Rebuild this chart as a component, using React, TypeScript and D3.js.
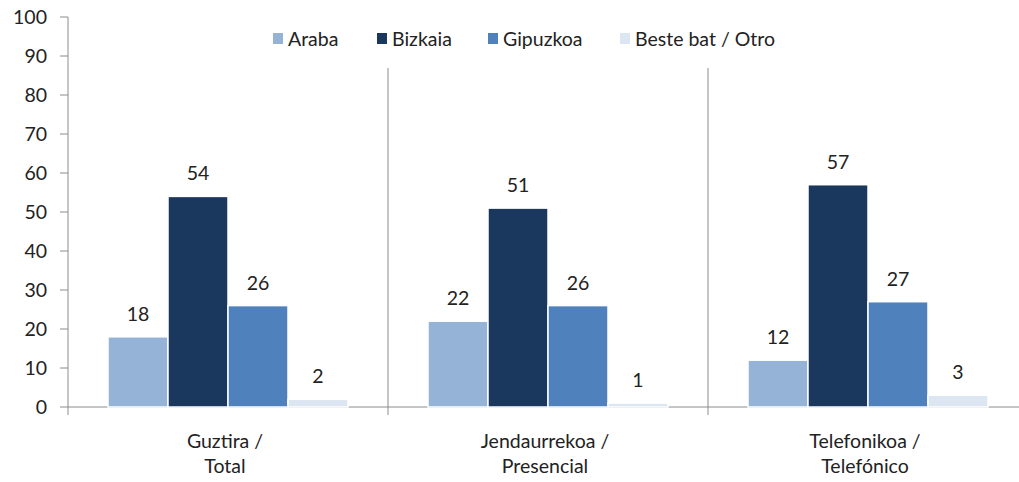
import React, { useEffect, useRef } from 'react';
import * as d3 from 'd3';

const categories = [['Guztira /', 'Total'], ['Jendaurrekoa /', 'Presencial'], ['Telefonikoa /', 'Telefónico']];
const seriesNames = ['Araba', 'Bizkaia', 'Gipuzkoa', 'Beste bat / Otro'];
const seriesColors = ['#95B3D7', '#1A375E', '#4F81BD', '#DCE6F2'];
const araba = [18, 22, 12];
const bizkaia = [54, 51, 57];
const gipuzkoa = [26, 26, 27];
const otro = [2, 1, 3];
const yTicks = [0, 10, 20, 30, 40, 50, 60, 70, 80, 90, 100];

const App = () => {
    const ref = useRef<SVGSVGElement>(null);

    useEffect(() => {
        const width = 1019;
        const height = 482;
        const font = 'Lato, "Open Sans", sans-serif';
        const values = [araba, bizkaia, gipuzkoa, otro];

        const svg = d3.select(ref.current)
                      .attr('width', width)
                      .attr('height', height);
        svg.selectAll('*').remove();

        const x0 = d3.scaleBand<number>()
                     .domain([0, 1, 2])
                     .range([68, 1028]);

        // bars fill the middle 3/4 of each category
        const x1 = d3.scaleBand<number>()
                     .domain([0, 1, 2, 3])
                     .range([x0.bandwidth() / 8, x0.bandwidth() * 7 / 8]);

        const y = d3.scaleLinear()
                    .domain([0, 100])
                    .range([407, 17]);

        // y axis
        svg.append('line')
           .attr('x1', 68).attr('x2', 68)
           .attr('y1', y(100)).attr('y2', 415)
           .attr('stroke', '#8c8c8c');

        svg.selectAll('.ytick')
           .data(yTicks)
           .join('line')
           .attr('x1', 60).attr('x2', 68)
           .attr('y1', d => y(d)).attr('y2', d => y(d))
           .attr('stroke', '#8c8c8c');

        svg.selectAll('.ylabel')
           .data(yTicks)
           .join('text')
           .attr('x', 47)
           .attr('y', d => y(d))
           .attr('dy', '0.35em')
           .attr('text-anchor', 'end')
           .style('font-family', font)
           .style('font-size', '19.5px')
           .attr('fill', '#222')
           .text(d => d);

        // separators between categories
        svg.selectAll('.sep')
           .data([1, 2])
           .join('line')
           .attr('x1', d => x0(d)!).attr('x2', d => x0(d)!)
           .attr('y1', 68).attr('y2', 415)
           .attr('stroke', '#8c8c8c');

        // x axis
        svg.append('line')
           .attr('x1', 68).attr('x2', width)
           .attr('y1', y(0)).attr('y2', y(0))
           .attr('stroke', '#8c8c8c');

        // bars
        values.forEach((series, s) => {
            const g = svg.append('g');
            g.selectAll('rect')
             .data(series)
             .join('rect')
             .attr('x', (d, i) => x0(i)! + x1(s)!)
             .attr('y', d => y(d))
             .attr('width', x1.bandwidth())
             .attr('height', d => y(0) - y(d))
             .attr('fill', seriesColors[s])
             .attr('stroke', '#fff')
             .attr('stroke-width', 1.5);

            g.selectAll('text')
             .data(series)
             .join('text')
             .attr('x', (d, i) => x0(i)! + x1(s)! + x1.bandwidth() / 2)
             .attr('y', d => y(d) - 16)
             .attr('text-anchor', 'middle')
             .style('font-family', font)
             .style('font-size', '19.5px')
             .attr('fill', '#222')
             .text(d => d);
        });

        // category labels
        categories.forEach((lines, i) => {
            const t = svg.append('text')
                         .attr('text-anchor', 'middle')
                         .style('font-family', font)
                         .style('font-size', '19.5px')
                         .attr('fill', '#222');
            lines.forEach((line, j) => {
                t.append('tspan')
                 .attr('x', x0(i)! + x0.bandwidth() / 2 - 3)
                 .attr('y', 448 + j * 25)
                 .text(line);
            });
        });

        // legend
        const legendX = [273, 377, 488, 620];
        const legend = svg.append('g');
        seriesNames.forEach((name, i) => {
            legend.append('rect')
                  .attr('x', legendX[i])
                  .attr('y', 33)
                  .attr('width', 10)
                  .attr('height', 11)
                  .attr('fill', seriesColors[i]);
            legend.append('text')
                  .attr('x', legendX[i] + 15)
                  .attr('y', 46)
                  .style('font-family', font)
                  .style('font-size', '19.5px')
                  .attr('fill', '#222')
                  .text(name);
        });
    }, []);

    return (
        <div>
            <svg ref={ref} style={{ position: 'absolute', left: 0, top: 0 }}></svg>
        </div>
    );
};

export default App;
